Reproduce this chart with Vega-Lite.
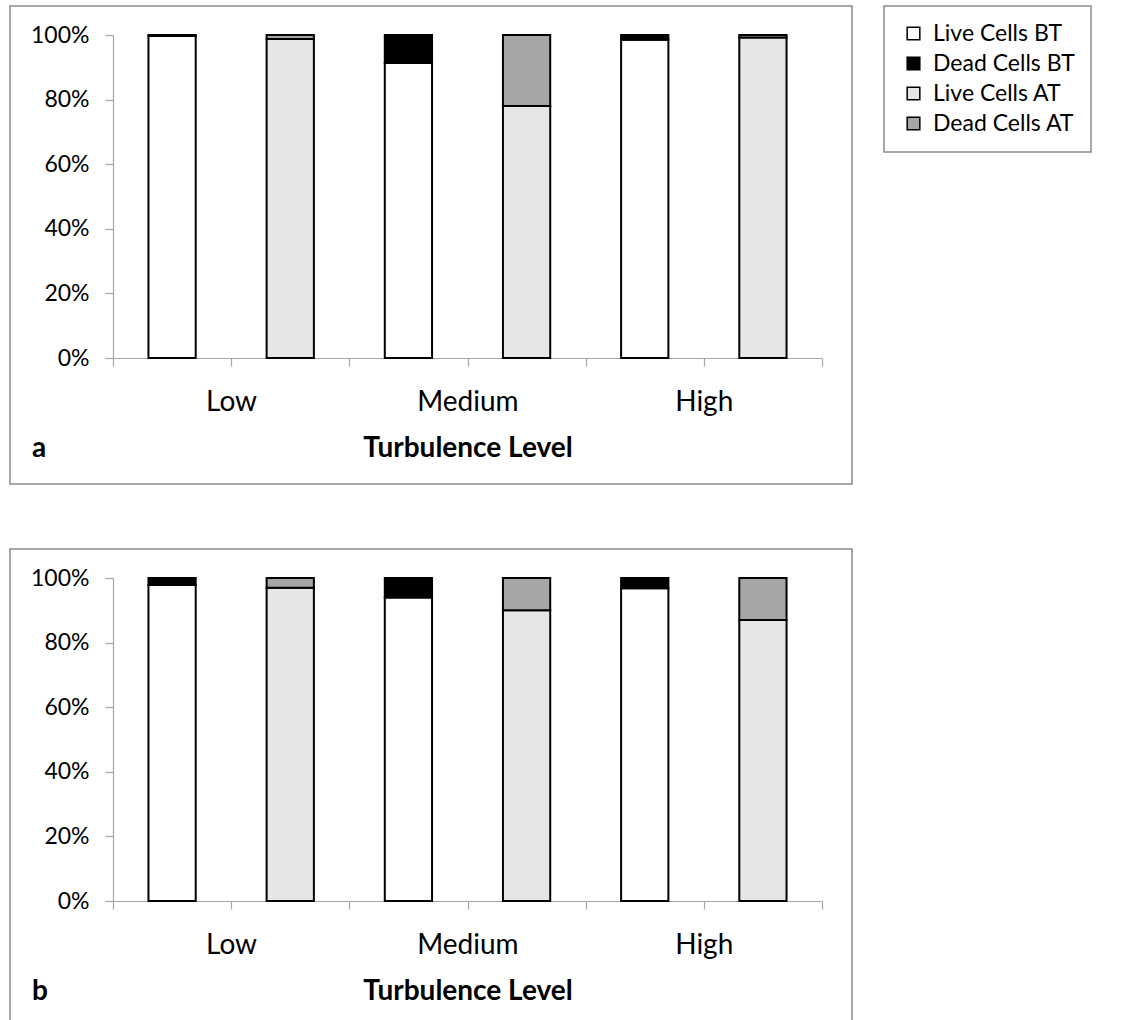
{
  "$schema": "https://vega.github.io/schema/vega-lite/v6.json",
  "padding": {"left": 9, "top": 5, "right": 0, "bottom": 0},
  "background": "white",
  "data": {"values": [
    {"panel": "a", "bar": "Low BT", "series": "Live Cells BT", "value": 99.7},
    {"panel": "a", "bar": "Low BT", "series": "Dead Cells BT", "value": 0.3},
    {"panel": "a", "bar": "Low AT", "series": "Live Cells AT", "value": 98.8},
    {"panel": "a", "bar": "Low AT", "series": "Dead Cells AT", "value": 1.2},
    {"panel": "a", "bar": "Medium BT", "series": "Live Cells BT", "value": 91.3},
    {"panel": "a", "bar": "Medium BT", "series": "Dead Cells BT", "value": 8.7},
    {"panel": "a", "bar": "Medium AT", "series": "Live Cells AT", "value": 78},
    {"panel": "a", "bar": "Medium AT", "series": "Dead Cells AT", "value": 22},
    {"panel": "a", "bar": "High BT", "series": "Live Cells BT", "value": 98.5},
    {"panel": "a", "bar": "High BT", "series": "Dead Cells BT", "value": 1.5},
    {"panel": "a", "bar": "High AT", "series": "Live Cells AT", "value": 99.2},
    {"panel": "a", "bar": "High AT", "series": "Dead Cells AT", "value": 0.8},
    {"panel": "b", "bar": "Low BT", "series": "Live Cells BT", "value": 97.8},
    {"panel": "b", "bar": "Low BT", "series": "Dead Cells BT", "value": 2.2},
    {"panel": "b", "bar": "Low AT", "series": "Live Cells AT", "value": 97},
    {"panel": "b", "bar": "Low AT", "series": "Dead Cells AT", "value": 3},
    {"panel": "b", "bar": "Medium BT", "series": "Live Cells BT", "value": 94},
    {"panel": "b", "bar": "Medium BT", "series": "Dead Cells BT", "value": 6},
    {"panel": "b", "bar": "Medium AT", "series": "Live Cells AT", "value": 90},
    {"panel": "b", "bar": "Medium AT", "series": "Dead Cells AT", "value": 10},
    {"panel": "b", "bar": "High BT", "series": "Live Cells BT", "value": 96.8},
    {"panel": "b", "bar": "High BT", "series": "Dead Cells BT", "value": 3.2},
    {"panel": "b", "bar": "High AT", "series": "Live Cells AT", "value": 87},
    {"panel": "b", "bar": "High AT", "series": "Dead Cells AT", "value": 13}
  ]},
  "spacing": 63,
  "vconcat": [
    {
      "width": 842, "height": 478,
      "title": {"text": "a", "orient": "bottom", "anchor": "start", "frame": "group", "offset": -27, "baseline": "alphabetic", "dx": 22, "fontSize": 28, "fontWeight": "bold", "font": "Lato", "color": "black"},
      "transform": [{"filter": "datum.panel == 'a'"}],
      "mark": {"type": "bar", "stroke": "black", "strokeWidth": 2, "width": {"band": 0.4}},
      "encoding": {
        "x": {"field": "bar", "type": "nominal", "sort": ["Low BT","Low AT","Medium BT","Medium AT","High BT","High AT"],
              "scale": {"range": [103, 812], "paddingInner": 0, "paddingOuter": 0},
              "axis": {"title": "Turbulence Level", "offset": -126, "tickBand": "extent", "labelAngle": 0, "labelOffset": 59, "labelOverlap": false,
                       "labelExpr": "datum.value == 'Low BT' ? 'Low' : datum.value == 'Medium BT' ? 'Medium' : datum.value == 'High BT' ? 'High' : ''"}},
        "y": {"field": "value", "type": "quantitative", "stack": "normalize",
              "scale": {"range": [352, 29], "domain": [0, 1]},
              "axis": {"title": null, "offset": -103, "format": ".0%", "values": [0, 0.2, 0.4, 0.6, 0.8, 1], "grid": false}},
        "color": {"field": "series", "type": "nominal", "sort": ["Live Cells BT","Dead Cells BT","Live Cells AT","Dead Cells AT"],
                  "scale": {"domain": ["Live Cells BT","Dead Cells BT","Live Cells AT","Dead Cells AT"], "range": ["#ffffff","#000000","#e6e6e6","#a6a6a6"]},
                  "legend": {"title": null, "orient": "none", "legendX": 874, "legendY": 0}}
      }
    },
    {
      "width": 842, "height": 478,
      "title": {"text": "b", "orient": "bottom", "anchor": "start", "frame": "group", "offset": -27, "baseline": "alphabetic", "dx": 22, "fontSize": 28, "fontWeight": "bold", "font": "Lato", "color": "black"},
      "transform": [{"filter": "datum.panel == 'b'"}],
      "mark": {"type": "bar", "stroke": "black", "strokeWidth": 2, "width": {"band": 0.4}},
      "encoding": {
        "x": {"field": "bar", "type": "nominal", "sort": ["Low BT","Low AT","Medium BT","Medium AT","High BT","High AT"],
              "scale": {"range": [103, 812], "paddingInner": 0, "paddingOuter": 0},
              "axis": {"title": "Turbulence Level", "offset": -126, "tickBand": "extent", "labelAngle": 0, "labelOffset": 59, "labelOverlap": false,
                       "labelExpr": "datum.value == 'Low BT' ? 'Low' : datum.value == 'Medium BT' ? 'Medium' : datum.value == 'High BT' ? 'High' : ''"}},
        "y": {"field": "value", "type": "quantitative", "stack": "normalize",
              "scale": {"range": [352, 29], "domain": [0, 1]},
              "axis": {"title": null, "offset": -103, "format": ".0%", "values": [0, 0.2, 0.4, 0.6, 0.8, 1], "grid": false}},
        "color": {"field": "series", "type": "nominal", "sort": ["Live Cells BT","Dead Cells BT","Live Cells AT","Dead Cells AT"],
                  "scale": {"domain": ["Live Cells BT","Dead Cells BT","Live Cells AT","Dead Cells AT"], "range": ["#ffffff","#000000","#e6e6e6","#a6a6a6"]},
                  "legend": {"title": null, "orient": "none", "legendX": 874, "legendY": 0}}
      }
    }
  ],
  "config": {
    "font": "Lato",
    "view": {"stroke": "#8a8a8a", "strokeWidth": 1.5},
    "axis": {"domainColor": "#a6a6a6", "domainWidth": 1.2, "tickColor": "#a6a6a6", "tickWidth": 1.2, "tickSize": 8,
             "labelColor": "black", "labelFont": "Lato", "titleColor": "black", "titleFont": "Lato"},
    "axisY": {"labelFontSize": 23, "labelPadding": 16},
    "axisX": {"labelFontSize": 28, "labelPadding": 22, "titleFontSize": 28, "titleFontWeight": "bold", "titlePadding": 18},
    "legend": {"strokeColor": "#8a8a8a", "strokeWidth": 1.5, "padding": 16, "rowPadding": 6, "symbolType": "square", "symbolSize": 160,
               "symbolStrokeColor": "black", "symbolStrokeWidth": 1.5, "labelFontSize": 23, "labelFont": "Lato", "labelColor": "black",
               "labelOffset": 8, "fillColor": "white", "symbolOffset": 2}
  }
}
